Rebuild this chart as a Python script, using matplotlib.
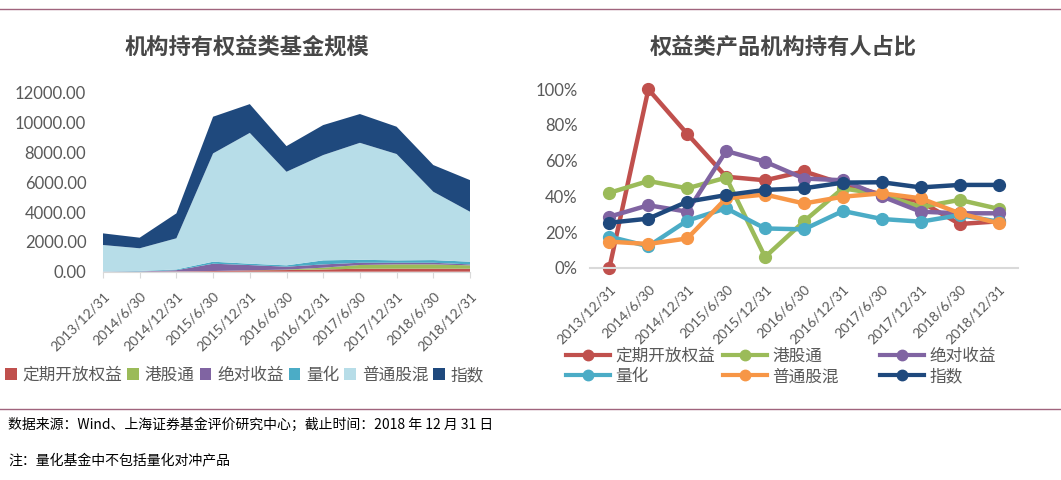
import matplotlib
matplotlib.use('Agg')
import matplotlib.pyplot as plt
from matplotlib.patches import Patch
from matplotlib.lines import Line2D
import numpy as np

plt.rcParams['font.family'] = ['Lato', 'Noto Sans CJK SC', 'DejaVu Sans']

# Data
dates = ['2013/12/31', '2014/6/30', '2014/12/31', '2015/6/30', '2015/12/31', '2016/6/30',
         '2016/12/31', '2017/6/30', '2017/12/31', '2018/6/30', '2018/12/31']
names = ['定期开放权益', '港股通', '绝对收益', '量化', '普通股混', '指数']

# left chart: scale (stacked area)
scale_dingqi  = [0, 0, 20, 45, 90, 110, 150, 200, 200, 200, 200]
scale_ganggu  = [0, 0, 0, 0, 5, 30, 120, 250, 290, 290, 225]
scale_juedui  = [10, 20, 80, 490, 350, 195, 220, 150, 110, 110, 65]
scale_lianghua = [10, 30, 50, 135, 90, 90, 270, 200, 160, 180, 180]
scale_putong  = [1770, 1520, 2090, 7260, 8770, 6275, 7060, 7840, 7130, 4580, 3350]
scale_zhishu  = [780, 710, 1670, 2460, 1930, 1720, 2010, 1930, 1830, 1790, 2120]

# right chart: share held by institutions (%)
pct_dingqi  = [0, 100, 75, 51, 49, 54, 47, 41, 37, 24.5, 26]
pct_ganggu  = [42, 48.6, 44.5, 50.5, 6, 26, 44.5, 41, 34, 38, 33]
pct_juedui  = [28.6, 35, 31.4, 65.4, 59.4, 50, 49, 40, 31.4, 30.5, 30.5]
pct_lianghua = [17.4, 12, 26.4, 33.3, 22, 21.5, 31.8, 27.3, 25.8, 29.5, 25.8]
pct_putong  = [14.6, 13.3, 16.4, 38.9, 41, 36, 39.8, 41.7, 38.9, 30.5, 24.9]
pct_zhishu  = [25.2, 27.5, 37, 40.7, 43.6, 44.5, 47.7, 47.9, 45, 46.4, 46.4]

colors = ['#C0504D', '#9BBB59', '#8064A2', '#4BACC6', '#B7DDE8', '#1F497D']
line_colors = ['#C0504D', '#9BBB59', '#8064A2', '#4BACC6', '#F79646', '#1F497D']
gray = '#595959'

fig = plt.figure(figsize=(10.61, 4.8), dpi=100)
W, H = 1061.0, 480.0

# frame lines top and bottom
fig.add_artist(Line2D([0, 1], [1 - 9 / H, 1 - 9 / H], color='#A0647D', lw=1))
fig.add_artist(Line2D([0, 1], [1 - 409 / H, 1 - 409 / H], color='#A0647D', lw=1))

# ---- left: stacked area
ax1 = fig.add_axes([103 / W, 1 - 271.7 / H, (470 - 103) / W, (271.7 - 92.7) / H])
x = np.arange(len(dates))
ax1.stackplot(x, scale_dingqi, scale_ganggu, scale_juedui, scale_lianghua, scale_putong, scale_zhishu,
              colors=colors, linewidth=0)
ax1.set_xlim(0, 10)
ax1.set_ylim(0, 12000)
ax1.set_yticks(np.arange(0, 12001, 2000))
ax1.set_yticklabels(['%.2f' % v for v in np.arange(0, 12001, 2000)])
ax1.set_xticks(x)
ax1.set_xticklabels(dates, rotation=45, ha='right', va='top', rotation_mode='anchor')
for sp in ['top', 'right', 'left']:
    ax1.spines[sp].set_visible(False)
ax1.spines['bottom'].set_color('#D9D9D9')
ax1.tick_params(axis='y', length=0, labelsize=12, labelcolor=gray, pad=12)
ax1.tick_params(axis='x', length=4, color='#D9D9D9', labelsize=10, labelcolor=gray, pad=9)
fig.text(247 / W, 1 - 47 / H, '机构持有权益类基金规模', ha='center', va='center', fontsize=16,
         fontweight='bold', color='#474747', family=['Noto Sans CJK SC'])

handles1 = [Patch(facecolor=c, edgecolor='none') for c in colors]
fig.legend(handles1, names, loc='center left', bbox_to_anchor=(5 / W, 1 - 375 / H), ncol=6,
           frameon=False, fontsize=12, handlelength=0.7, handleheight=0.7, handletextpad=0.35,
           columnspacing=0.3, borderpad=0, borderaxespad=0, labelcolor=gray)

# ---- right: lines
ax2 = fig.add_axes([590 / W, 1 - 267.7 / H, (1018 - 590) / W, (267.7 - 89.3) / H])
series = [pct_dingqi, pct_ganggu, pct_juedui, pct_lianghua, pct_putong, pct_zhishu]
for s, c, n in zip(series, line_colors, names):
    ax2.plot(x, s, color=c, lw=3.2, marker='o', markersize=8.5, label=n, clip_on=False)
ax2.set_xlim(-0.5, 10.5)
ax2.set_ylim(0, 100)
ax2.set_yticks(np.arange(0, 101, 20))
ax2.set_yticklabels(['%d%%' % v for v in np.arange(0, 101, 20)])
ax2.set_xticks(x)
ax2.set_xticklabels(dates, rotation=45, ha='right', va='top', rotation_mode='anchor')
for sp in ['top', 'right', 'left']:
    ax2.spines[sp].set_visible(False)
ax2.spines['bottom'].set_color('#D9D9D9')
ax2.spines['bottom'].set_linewidth(1.5)
ax2.tick_params(axis='y', length=0, labelsize=12, labelcolor=gray, pad=9)
ax2.tick_params(axis='x', length=0, labelsize=10, labelcolor=gray, pad=11)
fig.text(783 / W, 1 - 47 / H, '权益类产品机构持有人占比', ha='center', va='center', fontsize=16,
         fontweight='bold', color='#474747', family=['Noto Sans CJK SC'])

# right legend: three columns, two rows each
cols = [(0, 3), (1, 4), (2, 5)]
col_x = [566, 723, 880]
for (a, b), cx in zip(cols, col_x):
    hs = [Line2D([], [], color=line_colors[i], lw=3, marker='o', markersize=7.5) for i in (a, b)]
    fig.legend(hs, [names[a], names[b]], loc='upper left', bbox_to_anchor=(cx / W, 1 - 348 / H),
               frameon=False, fontsize=12, handlelength=2.65, handletextpad=0.3, labelspacing=0.25,
               borderpad=0, borderaxespad=0, labelcolor=gray)

# footer
fig.text(8 / W, 1 - 425 / H, '数据来源：Wind、上海证券基金评价研究中心；截止时间：2018 年 12 月 31 日',
         ha='left', va='center', fontsize=10, color='#000000', family=['Noto Sans CJK SC', 'DejaVu Sans'])
fig.text(8 / W, 1 - 460 / H, '注：量化基金中不包括量化对冲产品',
         ha='left', va='center', fontsize=10, color='#000000', family=['Noto Sans CJK SC', 'DejaVu Sans'])

fig.savefig('out.png', dpi=100)
